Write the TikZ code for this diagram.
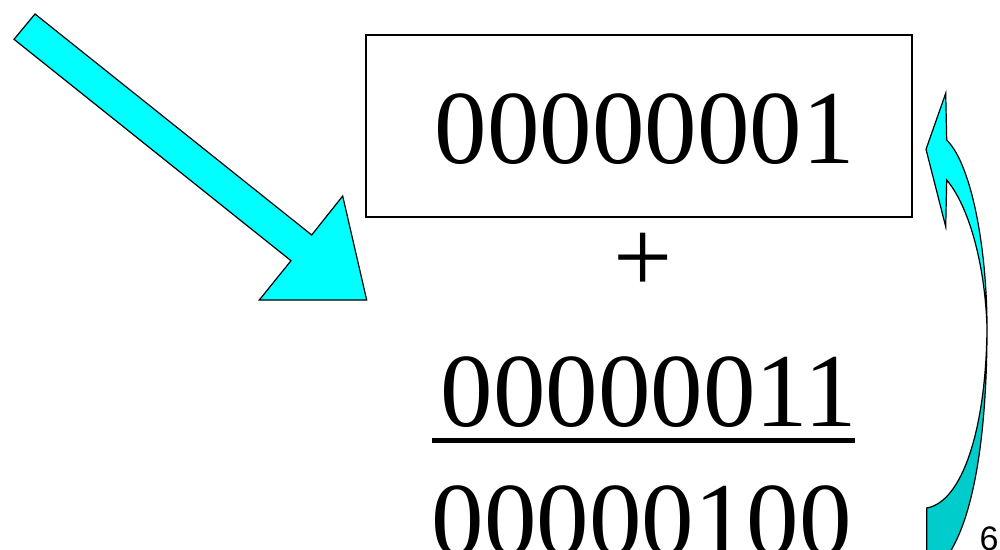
\documentclass[tikz,border=0pt]{standalone}
\usepackage{fontspec}
\setmainfont{Liberation Serif}
\newfontfamily\pagenumfont{Liberation Sans}
\definecolor{arrowcyan}{RGB}{0,255,255}
\definecolor{arrowshade}{RGB}{0,204,204}
\begin{document}
\begin{tikzpicture}[x=1pt,y=-1pt,
  digits/.style={inner sep=0pt, font=\fontsize{105}{120}\selectfont},
  frame/.style={draw=black, line width=1.5pt, minimum width=546pt, minimum height=182pt, inner sep=0pt},
  outline/.style={draw=black, line width=1.2pt, line join=miter},
]
\useasboundingbox (0,0) rectangle (1000,549);
\clip (0,0) rectangle (1000,549);

% boxed first operand
\node[frame] (box) at (639,126) {};
\node[digits, anchor=base west] (a) at (434.5,163.5) {00000001};

% plus sign
\node[digits, anchor=base] (plus) at (643,292) {+};

% second operand, underlined
\node[digits, anchor=base west] (b) at (440.5,426.5) {00000011};
\draw[line width=5pt] (432,440.5) -- (855,440.5);

% result
\node[digits, anchor=base west] (c) at (431.5,555.5) {00000100};

% page number
\node[inner sep=0pt, anchor=base west, font=\pagenumfont\fontsize{34}{40}\selectfont] (pg) at (979.5,550) {6};

% big straight arrow
\draw[outline, fill=arrowcyan]
  (35,14) -- (311.7,235) -- (342.7,196) -- (366.7,300) -- (259.3,300)
  -- (291,260.7) -- (14,39.3) -- cycle;

% curved arrow: lower (back) part
\draw[outline, fill=arrowshade]
  (987,328) .. controls (987,425) and (976,510) .. (950,552)
  -- (926.7,552) -- (926.7,508)
  .. controls (962,502) and (986,430) .. (987,328) -- cycle;

% curved arrow: upper (front) part with head
\draw[outline, fill=arrowcyan]
  (946.7,140) .. controls (972,165) and (987,250) .. (987,328)
  .. controls (985,262) and (968,205) .. (946.7,180)
  -- (945.7,226.7) -- (926,149.3) -- (945.7,93.3) -- cycle;
\end{tikzpicture}
\end{document}
